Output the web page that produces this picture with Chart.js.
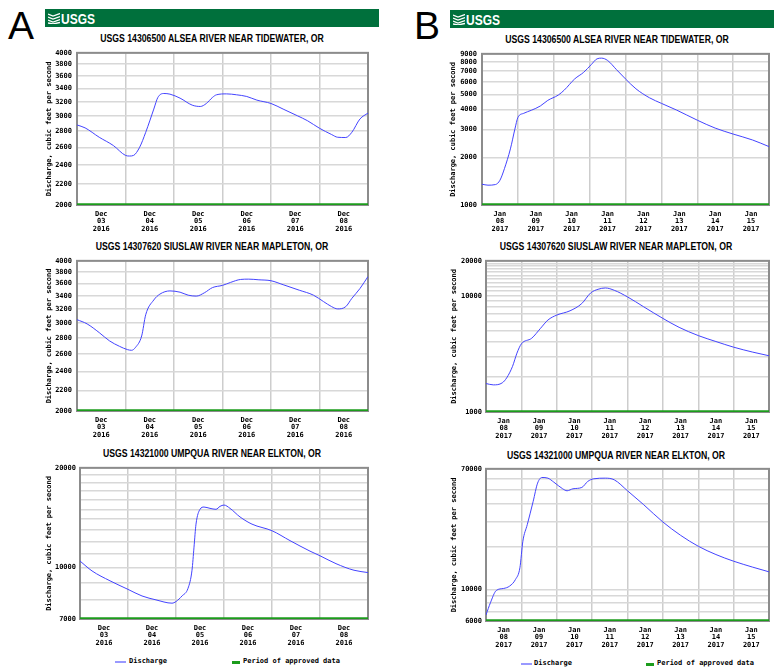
<!DOCTYPE html>
<html>
<head>
<meta charset="utf-8">
<script src="https://cdn.jsdelivr.net/npm/chart.js@4.4.1/dist/chart.umd.min.js"></script>
<style>
body { margin: 0; background: #fff; }
#page { position: relative; width: 774px; height: 670px; overflow: hidden; font-family: "Liberation Sans", Arial, sans-serif; }
.letter { position: absolute; font-size: 39px; line-height: 39px; color: #000; }
.banner { position: absolute; height: 18px; background: #00703c; }
.logo { position: absolute; top: 0; left: 3px; height: 18px; display: flex; align-items: center; color: #fff; font-weight: bold; font-size: 15px; }
.logo span { display: inline-block; transform: scaleX(0.8); transform-origin: left center; margin-left: 1px; }
.title { position: absolute; width: 400px; height: 14px; line-height: 14px; text-align: center; font-weight: bold; font-size: 11.5px; color: #000; transform: scaleX(0.755); white-space: nowrap; }
canvas { position: absolute; }
.swatch { position: absolute; }
.legtext { position: absolute; height: 10px; line-height: 10px; font: bold 7px "DejaVu Sans Mono", monospace; color: #000; white-space: nowrap; }
</style>
</head>
<body>
<div id="page">
  <div class="letter" style="left:8px;top:6px">A</div>
  <div class="letter" style="left:414px;top:6px">B</div>
  <div class="banner" style="left:45px;top:9px;width:334px">
    <div class="logo"><svg width="12" height="11" viewBox="0 0 12 11"><path d="M0 1 L5 3 L12 0.5 M0 4 L5 6 L12 3.5 M0 7 L5 9 L12 6.5 M0 10 L5 11 L12 9.5" stroke="#fff" stroke-width="1.3" fill="none"/></svg><span>USGS</span></div>
  </div>
  <div class="banner" style="left:450px;top:10px;width:324px">
    <div class="logo"><svg width="12" height="11" viewBox="0 0 12 11"><path d="M0 1 L5 3 L12 0.5 M0 4 L5 6 L12 3.5 M0 7 L5 9 L12 6.5 M0 10 L5 11 L12 9.5" stroke="#fff" stroke-width="1.3" fill="none"/></svg><span>USGS</span></div>
  </div>
</div>
<script>
// stations
var stationA1 = "USGS 14306500 ALSEA RIVER NEAR TIDEWATER, OR";
var stationA2 = "USGS 14307620 SIUSLAW RIVER NEAR MAPLETON, OR";
var stationA3 = "USGS 14321000 UMPQUA RIVER NEAR ELKTON, OR";
var yTitle = "Discharge, cubic feet per second";

// x tick labels (day of month, labels sit at noon)
var decDays = ["03", "04", "05", "06", "07", "08"];
var janDays = ["08", "09", "10", "11", "12", "13", "14", "15"];

// hours since start of first day, discharge in cfs
var hoursA1 = [0, 4, 11, 18, 24, 26, 28, 31, 34, 38, 40, 43, 46, 51, 57, 61, 64, 67, 69, 74, 79, 84, 89, 96, 102, 109, 114, 120, 126, 129, 133, 136, 140, 144];
var flowA1 = [2880, 2842, 2723, 2622, 2507, 2500, 2507, 2602, 2785, 3096, 3264, 3324, 3314, 3254, 3152, 3133, 3176, 3264, 3304, 3318, 3304, 3279, 3225, 3176, 3096, 3004, 2937, 2837, 2757, 2723, 2720, 2785, 2959, 3040];

var hoursA2 = [0, 5, 11, 16, 21, 25, 27, 29, 32, 34, 38, 41, 46, 51, 55, 59, 63, 67, 72, 76, 81, 85, 90, 96, 102, 110, 117, 122, 126, 129, 133, 136, 140, 144];
var flowA2 = [3049, 2990, 2872, 2766, 2696, 2655, 2647, 2684, 2828, 3119, 3339, 3430, 3482, 3461, 3414, 3399, 3451, 3535, 3572, 3621, 3671, 3676, 3665, 3649, 3583, 3493, 3414, 3314, 3238, 3204, 3238, 3364, 3519, 3721];

var hoursA3 = [0, 6, 15, 24, 31, 38, 46, 48, 51, 54, 56, 57, 58, 60, 62, 65, 68, 70, 72, 75, 80, 86, 96, 105, 115, 120, 128, 137, 144];
var flowA3 = [10470, 9776, 9126, 8600, 8215, 7994, 7813, 7903, 8215, 8660, 9821, 11527, 13527, 14995, 15235, 15096, 14995, 15304, 15446, 15096, 14223, 13527, 12922, 12064, 11214, 10860, 10280, 9821, 9664];

var hoursB1 = [0, 4, 9, 12, 15, 19, 22, 24, 28, 33, 39, 44, 51, 55, 62, 68, 73, 77, 80, 84, 90, 96, 103, 112, 120, 130, 144, 156, 168, 181, 192];
var flowB1 = [1353, 1334, 1346, 1433, 1696, 2261, 3014, 3566, 3795, 3963, 4217, 4576, 4941, 5310, 6251, 6880, 7682, 8376, 8455, 8177, 7149, 6251, 5413, 4755, 4383, 3982, 3432, 3058, 2805, 2573, 2337];

var hoursB2 = [0, 5, 11, 14, 18, 21, 24, 31, 37, 42, 48, 57, 65, 71, 76, 81, 87, 96, 107, 120, 131, 144, 156, 168, 181, 192];
var flowB2 = [1758, 1712, 1781, 1964, 2471, 3212, 3859, 4314, 5252, 6187, 6827, 7432, 8585, 10590, 11382, 11684, 11160, 9788, 8041, 6392, 5355, 4548, 4041, 3614, 3276, 3049];

var hoursB3 = [0, 3, 7, 12, 16, 20, 23, 25, 28, 32, 35, 38, 42, 46, 52, 55, 59, 65, 69, 73, 81, 87, 96, 107, 120, 132, 144, 156, 168, 181, 192];
var flowB3 = [6609, 8058, 9828, 10150, 10539, 11733, 14157, 21737, 28430, 41384, 55580, 60889, 60235, 56485, 50735, 49133, 50735, 51836, 57091, 59597, 60235, 58644, 49133, 39221, 29673, 23940, 20062, 17542, 15757, 14309, 13271];

// approved-data period (hours)
var approvedDec = [0, 144];
var approvedJan = [0, 192];

// y grid values and which ones get a label
var gridA12 = [2000, 2200, 2400, 2600, 2800, 3000, 3200, 3400, 3600, 3800, 4000];
var gridA3 = [7000, 8000, 9000, 10000, 11000, 12000, 13000, 14000, 15000, 16000, 17000, 18000, 19000, 20000];
var labelsA3 = [7000, 10000, 20000];
var gridB1 = [1000, 2000, 3000, 4000, 5000, 6000, 7000, 8000, 9000];
var gridB2 = [1000, 2000, 3000, 4000, 5000, 6000, 7000, 8000, 9000, 10000, 11000, 12000, 13000, 14000, 15000, 16000, 17000, 18000, 19000, 20000];
var labelsB2 = [1000, 10000, 20000];
var gridB3 = [6000, 7000, 8000, 9000, 10000, 20000, 30000, 40000, 50000, 60000, 70000];
var labelsB3 = [6000, 10000, 70000];

var monoFont = { family: "'DejaVu Sans Mono', monospace", size: 7, weight: 'bold', lineHeight: 1.1 };

var framePlugin = {
    id: 'frame',
    beforeDatasetsDraw: function(chart) {
        var a = chart.chartArea, ctx = chart.ctx;
        ctx.save();
        ctx.strokeStyle = '#8c8c8c';
        ctx.lineWidth = 2;
        ctx.strokeRect(a.left, a.top, a.right - a.left, a.bottom - a.top);
        ctx.restore();
    }
};

var page = document.getElementById('page');

function addTitle(text, cx, cy) {
    var d = document.createElement('div');
    d.className = 'title';
    d.textContent = text;
    d.style.left = (cx - 200) + 'px';
    d.style.top = (cy - 7) + 'px';
    page.appendChild(d);
}

function addLegend(lineX, textX, greenX, greenTextX, cy) {
    var s1 = document.createElement('div');
    s1.className = 'swatch';
    s1.style.cssText = 'left:' + lineX + 'px;top:' + (cy - 1) + 'px;width:11px;height:2px;background:#9999ff';
    page.appendChild(s1);
    var t1 = document.createElement('div');
    t1.className = 'legtext';
    t1.style.left = textX + 'px';
    t1.style.top = (cy - 5) + 'px';
    t1.textContent = 'Discharge';
    page.appendChild(t1);
    var s2 = document.createElement('div');
    s2.className = 'swatch';
    s2.style.cssText = 'left:' + greenX + 'px;top:' + (cy - 1.5) + 'px;width:8px;height:3px;background:#1c9c1c';
    page.appendChild(s2);
    var t2 = document.createElement('div');
    t2.className = 'legtext';
    t2.style.left = greenTextX + 'px';
    t2.style.top = (cy - 5) + 'px';
    t2.textContent = 'Period of approved data';
    page.appendChild(t2);
}

function hydrograph(cfg) {
    var box = cfg.box, area = cfg.area;
    var canvas = document.createElement('canvas');
    canvas.width = box.w;
    canvas.height = box.h;
    canvas.style.left = box.left + 'px';
    canvas.style.top = box.top + 'px';
    page.appendChild(canvas);

    var maxH = cfg.days.length * 24;
    var yMin = cfg.grid[0], yMax = cfg.grid[cfg.grid.length - 1];
    var labelled = cfg.labels || cfg.grid;

    new Chart(canvas.getContext('2d'), {
        type: 'line',
        data: {
            datasets: [{
                label: 'Discharge',
                data: cfg.hours.map(function(h, i) { return { x: h, y: cfg.flows[i] }; }),
                borderColor: '#4444ff',
                borderWidth: 1,
                pointRadius: 0,
                cubicInterpolationMode: 'monotone',
                fill: false
            }, {
                label: 'Period of approved data',
                data: cfg.approved.map(function(h) { return { x: h, y: yMin }; }),
                borderColor: '#1c9c1c',
                borderWidth: 3.5,
                pointRadius: 0,
                fill: false
            }]
        },
        options: {
            responsive: false,
            animation: false,
            devicePixelRatio: 1,
            layout: { padding: { left: 0, top: area.t - box.top, right: box.left + box.w - area.r, bottom: 0 } },
            plugins: { legend: { display: false }, tooltip: { enabled: false } },
            scales: {
                x: {
                    type: 'linear',
                    min: 0,
                    max: maxH,
                    afterBuildTicks: function(s) {
                        var t = [];
                        for (var h = 0; h <= maxH; h += 12) t.push({ value: h });
                        s.ticks = t;
                    },
                    afterFit: function(s) { s.height = box.top + box.h - area.b; },
                    grid: {
                        color: function(c) { return c.tick && c.tick.value % 24 === 0 ? '#cdcdcd' : 'rgba(0,0,0,0)'; },
                        lineWidth: 1.5,
                        drawTicks: false
                    },
                    border: { display: false },
                    ticks: {
                        autoSkip: false,
                        maxRotation: 0,
                        padding: 5,
                        color: '#000',
                        font: monoFont,
                        callback: function(v) {
                            if (v % 24 !== 12) return '';
                            return [cfg.month, cfg.days[(v - 12) / 24], cfg.year];
                        }
                    }
                },
                y: {
                    type: 'logarithmic',
                    min: yMin,
                    max: yMax,
                    afterBuildTicks: function(s) {
                        s.ticks = cfg.grid.map(function(v) { return { value: v }; });
                    },
                    afterFit: function(s) { s.width = area.l - box.left; },
                    grid: { color: '#d8d8d8', lineWidth: 1.5, drawTicks: false },
                    border: { display: false },
                    ticks: {
                        autoSkip: false,
                        padding: cfg.tickPad,
                        color: '#000',
                        font: monoFont,
                        callback: function(v) { return labelled.indexOf(v) >= 0 ? String(v) : ''; }
                    },
                    title: {
                        display: true,
                        text: yTitle,
                        color: '#000',
                        font: { family: "'DejaVu Sans Mono', monospace", size: 7, weight: 'bold' },
                        padding: { top: cfg.titleX - box.left - 4.2, bottom: 0 }
                    }
                }
            }
        },
        plugins: [framePlugin]
    });
}

// column A (December 2016)
addTitle(stationA1, 211.5, 38);
hydrograph({ box: { left: 10, top: 44, w: 368, h: 194 }, area: { l: 77, t: 51, r: 368, b: 205 }, titleX: 49, tickPad: 5,
    hours: hoursA1, flows: flowA1, approved: approvedDec, grid: gridA12, days: decDays, month: 'Dec', year: '2016' });

addTitle(stationA2, 212, 245.5);
hydrograph({ box: { left: 10, top: 252, w: 368, h: 194 }, area: { l: 77, t: 259, r: 368, b: 411 }, titleX: 49, tickPad: 5,
    hours: hoursA2, flows: flowA2, approved: approvedDec, grid: gridA12, days: decDays, month: 'Dec', year: '2016' });

addTitle(stationA3, 211.5, 453);
hydrograph({ box: { left: 10, top: 460, w: 368, h: 192 }, area: { l: 80, t: 466, r: 368, b: 619 }, titleX: 49, tickPad: 4,
    hours: hoursA3, flows: flowA3, approved: approvedDec, grid: gridA3, labels: labelsA3, days: decDays, month: 'Dec', year: '2016' });
addLegend(115, 129, 232, 243, 662);

// column B (January 2017)
addTitle(stationA1, 616.5, 38.5);
hydrograph({ box: { left: 420, top: 45, w: 354, h: 194 }, area: { l: 482, t: 52, r: 773, b: 205 }, titleX: 453, tickPad: 5,
    hours: hoursB1, flows: flowB1, approved: approvedJan, grid: gridB1, days: janDays, month: 'Jan', year: '2017' });

addTitle(stationA2, 616, 246);
hydrograph({ box: { left: 420, top: 253, w: 354, h: 194 }, area: { l: 486, t: 260, r: 772, b: 412 }, titleX: 454, tickPad: 4,
    hours: hoursB2, flows: flowB2, approved: approvedJan, grid: gridB2, labels: labelsB2, days: janDays, month: 'Jan', year: '2017' });

addTitle(stationA3, 616, 454.5);
hydrograph({ box: { left: 420, top: 461, w: 354, h: 192 }, area: { l: 486, t: 468, r: 773, b: 621 }, titleX: 454, tickPad: 4,
    hours: hoursB3, flows: flowB3, approved: approvedJan, grid: gridB3, labels: labelsB3, days: janDays, month: 'Jan', year: '2017' });
addLegend(521, 534, 646, 657, 664);
</script>
</body>
</html>
